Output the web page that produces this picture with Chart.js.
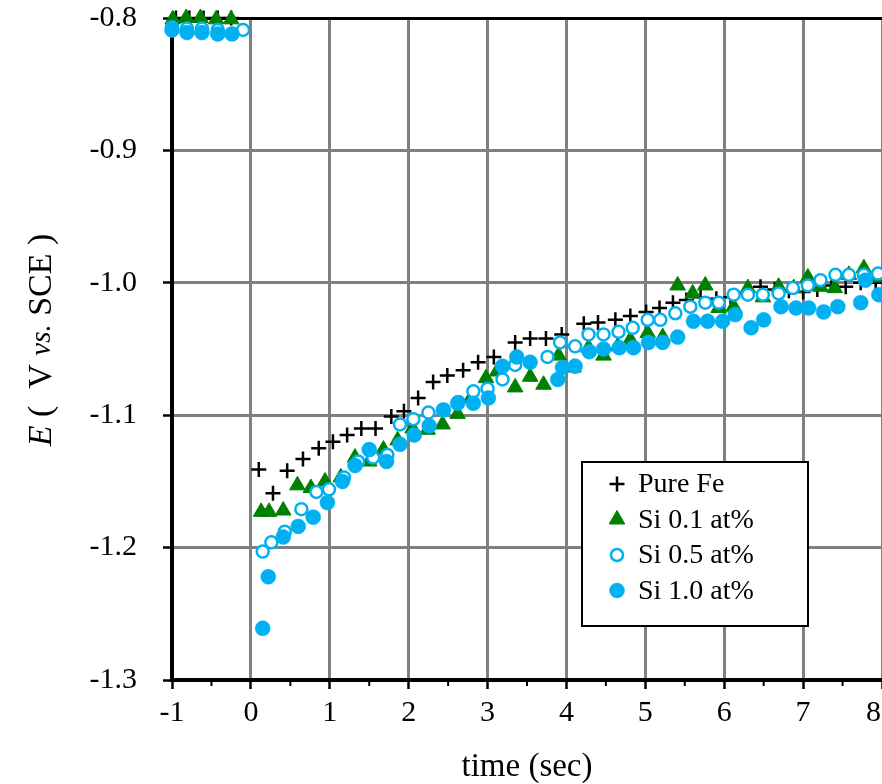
<!DOCTYPE html>
<html>
<head>
<meta charset="utf-8">
<script src="https://cdn.jsdelivr.net/npm/chart.js@4.4.0/dist/chart.umd.min.js"></script>
<style>
  html, body { margin: 0; padding: 0; background: #fff; }
  #wrap { width: 882px; height: 784px; }
</style>
</head>
<body>
<div id="wrap"><canvas id="potentialChart" width="882" height="784"></canvas></div>
<script>
// time (sec) and potential E (V vs. SCE) for each alloy
const pureFeTime = [-0.95, -0.78, -0.60, -0.42, -0.25,
  0.10, 0.28, 0.46, 0.66, 0.86, 1.04, 1.22, 1.40, 1.58, 1.78,
  1.94, 2.12, 2.31, 2.49, 2.69, 2.88, 3.08, 3.35, 3.54, 3.74, 3.94,
  4.22, 4.40, 4.62, 4.81, 5.01, 5.18, 5.35, 5.52, 5.70, 5.90,
  6.08, 6.28, 6.46, 6.64, 6.82, 7.00, 7.18, 7.36, 7.54, 7.73, 7.92];
const pureFeE = [-0.800, -0.800, -0.800, -0.800, -0.800,
  -1.141, -1.159, -1.142, -1.133, -1.125, -1.120, -1.115, -1.110, -1.110, -1.101,
  -1.097, -1.087, -1.075, -1.070, -1.066, -1.060, -1.056, -1.045, -1.042, -1.042, -1.039,
  -1.031, -1.030, -1.028, -1.025, -1.022, -1.019, -1.015, -1.013, -1.011, -1.012,
  -1.011, -1.008, -1.003, -1.005, -1.006, -1.007, -1.005, -1.002, -1.003, -1.000, -1.000];

const si01Time = [-0.99, -0.82, -0.64, -0.44, -0.25,
  0.13, 0.23, 0.41, 0.59, 0.76, 0.94, 1.14, 1.32, 1.50, 1.68,
  1.86, 2.05, 2.24, 2.43, 2.62, 2.79, 2.98, 3.12, 3.35, 3.54,
  3.71, 3.90, 4.09, 4.28, 4.47, 4.65, 4.81, 5.03, 5.22, 5.41,
  5.60, 5.76, 5.93, 6.12, 6.30, 6.49, 6.69, 6.88, 7.06, 7.22,
  7.40, 7.58, 7.77, 7.95];
const si01E = [-0.801, -0.800, -0.800, -0.801, -0.801,
  -1.173, -1.173, -1.172, -1.153, -1.155, -1.150, -1.147, -1.132, -1.135, -1.126,
  -1.119, -1.110, -1.111, -1.107, -1.099, -1.087, -1.072, -1.067, -1.079, -1.071,
  -1.077, -1.055, -1.064, -1.049, -1.055, -1.048, -1.043, -1.038, -1.041, -1.002,
  -1.008, -1.002, -1.019, -1.018, -1.004, -1.011, -1.003, -1.004, -0.996, -1.003,
  -1.004, -0.994, -0.989, -0.996];

const si05Time = [-1.00, -0.81, -0.62, -0.42, -0.10,
  0.15, 0.26, 0.43, 0.64, 0.83, 0.99, 1.18, 1.36, 1.55, 1.73,
  1.89, 2.06, 2.25, 2.44, 2.63, 2.82, 3.00, 3.19, 3.35, 3.76,
  3.92, 4.11, 4.28, 4.47, 4.66, 4.84, 5.03, 5.19, 5.38, 5.57,
  5.76, 5.93, 6.12, 6.30, 6.49, 6.69, 6.87, 7.06, 7.22, 7.41,
  7.58, 7.77, 7.95];
const si05E = [-0.807, -0.808, -0.808, -0.809, -0.809,
  -1.203, -1.196, -1.188, -1.171, -1.158, -1.156, -1.147, -1.135, -1.132, -1.130,
  -1.107, -1.103, -1.098, -1.096, -1.090, -1.082, -1.080, -1.073, -1.062, -1.056,
  -1.045, -1.048, -1.039, -1.039, -1.037, -1.034, -1.028, -1.028, -1.023, -1.018,
  -1.015, -1.015, -1.009, -1.009, -1.009, -1.008, -1.004, -1.002, -0.998, -0.994,
  -0.994, -0.994, -0.993];

const si10Time = [-1.00, -0.81, -0.62, -0.42, -0.24,
  0.15, 0.22, 0.41, 0.60, 0.79, 0.97, 1.16, 1.32, 1.50, 1.72,
  1.89, 2.07, 2.26, 2.44, 2.62, 2.82, 3.01, 3.19, 3.37, 3.54,
  3.89, 3.95, 4.11, 4.29, 4.47, 4.67, 4.85, 5.04, 5.22, 5.41,
  5.61, 5.79, 5.98, 6.14, 6.34, 6.50, 6.72, 6.91, 7.07, 7.26,
  7.44, 7.73, 7.79, 7.96];
const si10E = [-0.809, -0.811, -0.811, -0.812, -0.812,
  -1.261, -1.222, -1.192, -1.184, -1.177, -1.166, -1.150, -1.138, -1.126, -1.135,
  -1.122, -1.115, -1.108, -1.096, -1.091, -1.091, -1.087, -1.063, -1.056, -1.060,
  -1.073, -1.064, -1.063, -1.052, -1.050, -1.049, -1.049, -1.045, -1.045, -1.041,
  -1.029, -1.029, -1.029, -1.024, -1.034, -1.028, -1.018, -1.019, -1.019, -1.022,
  -1.018, -1.015, -0.998, -1.009];

// axis ranges and ticks
const timeMin = -1, timeMax = 8, timeStep = 1;
const eMin = -1.3, eMax = -0.8, eStep = 0.1;

const GREEN = '#008000';
const BLUE = '#00b0f0';
const SERIF = '"Liberation Serif", "Times New Roman", serif';

function pairs(xs, ys) {
  return xs.map((x, i) => ({ x: x, y: ys[i] }));
}

// minor ticks at the half seconds below the time axis,
// and the last time label pulled inside the canvas edge
const timeAxisExtras = {
  id: 'timeAxisExtras',
  afterDraw(chart) {
    const c = chart.ctx;
    const xs = chart.scales.x;
    const bottom = chart.chartArea.bottom;
    c.save();
    c.strokeStyle = '#000';
    c.lineWidth = 2;
    for (let v = timeMin + 0.5; v < timeMax; v += 1) {
      const px = xs.getPixelForValue(v);
      c.beginPath();
      c.moveTo(px, bottom);
      c.lineTo(px, bottom + 6);
      c.stroke();
    }
    const item = xs.getLabelItems()[0];
    c.font = tickFont.size + 'px ' + SERIF;
    c.fillStyle = '#000';
    c.textAlign = 'right';
    c.textBaseline = item.options.textBaseline;
    c.fillText(String(timeMax), chart.width - 1, item.options.translation[1] + item.textOffset);
    c.restore();
  }
};

// vertical title with italic E and "vs."
const yTitle = {
  id: 'yTitle',
  afterDraw(chart) {
    const c = chart.ctx;
    const parts = [
      { t: 'E', f: 'italic 34px ' + SERIF },
      { t: ' (  V ', f: '34px ' + SERIF },
      { t: 'vs.', f: 'italic 29px ' + SERIF },
      { t: ' SCE )', f: '34px ' + SERIF }
    ];
    c.save();
    let total = 0;
    parts.forEach(p => { c.font = p.f; p.w = c.measureText(p.t).width; total += p.w; });
    c.translate(42, 340);
    c.rotate(-Math.PI / 2);
    c.fillStyle = '#000';
    c.textBaseline = 'middle';
    let x = -total / 2;
    parts.forEach(p => { c.font = p.f; c.fillText(p.t, x, 0); x += p.w; });
    c.restore();
  }
};

// boxed legend inside the plot area, lower right
const boxLegend = {
  id: 'boxLegend',
  afterDraw(chart) {
    const c = chart.ctx;
    const left = 582, top = 462, w = 226, h = 164;
    c.save();
    c.fillStyle = '#fff';
    c.fillRect(left, top, w, h);
    c.strokeStyle = '#000';
    c.lineWidth = 2;
    c.strokeRect(left, top, w, h);
    c.font = '28px ' + SERIF;
    c.textBaseline = 'middle';
    chart.data.datasets.forEach((ds, i) => {
      const y = top + 22 + i * 35.5;
      c.fillStyle = ds.backgroundColor;
      c.strokeStyle = ds.borderColor;
      c.lineWidth = ds.borderWidth;
      Chart.helpers.drawPoint(c, {
        pointStyle: ds.pointStyle, radius: ds.pointRadius, rotation: 0, borderWidth: ds.borderWidth
      }, left + 35, y);
      c.fillStyle = '#000';
      c.fillText(ds.label, left + 56, y + 1);
    });
    c.restore();
  }
};

const tickFont = { family: SERIF, size: 30 };

const ctx = document.getElementById('potentialChart').getContext('2d');
new Chart(ctx, {
  type: 'scatter',
  data: {
    datasets: [
      {
        label: 'Pure Fe', data: pairs(pureFeTime, pureFeE),
        pointStyle: 'cross', pointRadius: 7.5, borderWidth: 2.5,
        borderColor: '#000', backgroundColor: '#000', order: 4, clip: false
      },
      {
        label: 'Si 0.1 at%', data: pairs(si01Time, si01E),
        pointStyle: 'triangle', pointRadius: 9, borderWidth: 1,
        borderColor: GREEN, backgroundColor: GREEN, order: 3, clip: false
      },
      {
        label: 'Si 0.5 at%', data: pairs(si05Time, si05E),
        pointStyle: 'circle', pointRadius: 6, borderWidth: 2.5,
        borderColor: BLUE, backgroundColor: '#fff', order: 2, clip: false
      },
      {
        label: 'Si 1.0 at%', data: pairs(si10Time, si10E),
        pointStyle: 'circle', pointRadius: 7.5, borderWidth: 0.5,
        borderColor: BLUE, backgroundColor: BLUE, order: 1, clip: false
      }
    ]
  },
  options: {
    responsive: false,
    animation: false,
    events: [],
    layout: { autoPadding: false, padding: { top: 18, right: -4, left: 0, bottom: 0 } },
    plugins: { legend: { display: false }, tooltip: { enabled: false } },
    scales: {
      x: {
        type: 'linear', min: timeMin, max: timeMax,
        ticks: {
          stepSize: timeStep, font: tickFont, color: '#000', padding: 6, maxRotation: 0,
          // the last label is drawn by timeAxisExtras so it stays on the canvas
          callback: v => (v === timeMax ? '' : String(v))
        },
        grid: {
          color: '#808080', lineWidth: 3,
          tickColor: '#000', tickLength: 9, tickWidth: 2.5
        },
        border: { color: '#000', width: 4 },
        title: {
          display: true, text: 'time (sec)', color: '#000',
          font: { family: SERIF, size: 33, lineHeight: 1 }, padding: { top: 0, bottom: 0 }
        },
        afterFit(s) { s.height = 104; s.paddingLeft = 0; s.paddingRight = 0; }
      },
      y: {
        type: 'linear', min: eMin, max: eMax,
        ticks: {
          stepSize: eStep, font: tickFont, color: '#000', padding: 26,
          callback: v => v.toFixed(1)
        },
        grid: {
          color: c => (Math.abs(c.tick.value - eMax) < 1e-6 ? '#000' : '#808080'),
          lineWidth: 3,
          tickColor: '#000', tickLength: 9, tickWidth: 2.5
        },
        border: { color: '#000', width: 4 },
        afterFit(s) { s.width = 172; s.paddingTop = 0; s.paddingBottom = 0; }
      }
    }
  },
  plugins: [timeAxisExtras, yTitle, boxLegend]
});
</script>
</body>
</html>
